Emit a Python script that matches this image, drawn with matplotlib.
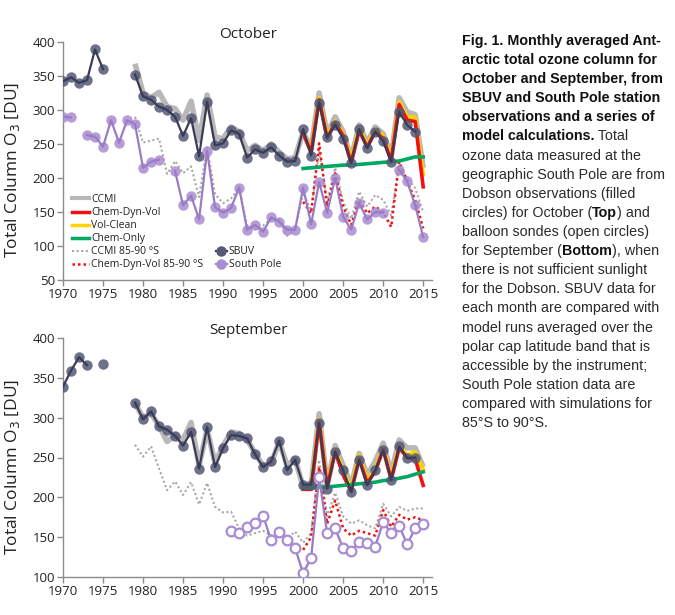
import numpy as np
import matplotlib
matplotlib.use('Agg')
from matplotlib import pyplot as plt
from matplotlib.lines import Line2D

nan = np.nan

years_all = np.arange(1970, 2016)
years_ccmi = np.arange(1979, 2016)
years_model = np.arange(2000, 2016)
years_sp_sep = np.arange(1991, 2016)

# ---- October ----
oct_sbuv = [342, 348, 340, 344, 389, 360, nan, nan, nan, 352,
            320, 315, 305, 300, 290, 262, 288, 232, 312, 248,
            251, 270, 265, 230, 242, 237, 245, 233, 224, 225,
            272, 233, 311, 260, 278, 258, 222, 272, 244, 268,
            254, 224, 297, 278, 268, nan]
oct_southpole = [290, 289, nan, 263, 261, 246, 285, 252, 285, 279,
                 215, 224, 227, nan, 210, 160, 174, 139, 240, 157,
                 149, 156, 186, 124, 131, 121, 142, 136, 124, 124,
                 186, 132, 194, 149, 200, 143, 124, 163, 139, 150,
                 149, nan, 212, 195, 160, 113]
oct_ccmi = [368, 325, 318, 326, 305, 302, 285, 313, 255, 322,
            260, 258, 275, 268, 240, 248, 240, 250, 238, 228,
            230, 268, 243, 325, 265, 290, 268, 228, 278, 252,
            275, 265, 232, 318, 297, 293, 215]
oct_ccmi_sp = [290, 252, 255, 258, 206, 225, 207, 217, 172, 245,
               176, 163, 170, 185, 130, 125, 130, 140, 140, 115,
               125, 178, 152, 240, 165, 215, 165, 140, 180, 158,
               175, 168, 145, 218, 200, 185, 150]
oct_cdv = [266, 237, 315, 258, 281, 262, 222, 270, 245, 268, 258, 225, 308, 285, 283, 187]
oct_volclean = [267, 239, 318, 261, 284, 265, 226, 274, 248, 272, 262, 229, 312, 290, 289, 205]
oct_chemonly = [214, 215, 216, 217, 218, 219, 219, 220, 221, 222, 223, 224, 225, 228, 231, 231]
oct_cdv_sp = [165, 148, 251, 158, 207, 158, 131, 168, 148, 158, 150, 128, 224, 195, 168, 126]

# ---- September ----
sep_sbuv = [339, 359, 376, 366, nan, 367, nan, nan, nan, 319,
            298, 308, 289, 285, 277, 265, 282, 236, 288, 238,
            262, 278, 277, 274, 254, 238, 245, 271, 234, 247,
            216, 216, 293, 211, 257, 234, 207, 247, 215, 234,
            259, 222, 264, 249, 250, nan]
sep_southpole = [158, 155, 163, 168, 177, 146, 157, 147, 136, 105,
                 124, 225, 155, 161, 136, 133, 144, 143, 138, 169,
                 155, 164, 141, 161, 167]
sep_ccmi = [318, 300, 305, 290, 270, 278, 272, 294, 240, 285,
            243, 265, 282, 280, 273, 255, 240, 242, 270, 240,
            248, 213, 215, 305, 215, 265, 240, 215, 255, 228,
            245, 268, 230, 272, 262, 262, 238]
sep_ccmi_sp = [266, 251, 264, 236, 209, 220, 203, 219, 191, 218,
               188, 181, 182, 161, 152, 155, 158, 152, 158, 148,
               157, 143, 155, 247, 176, 206, 176, 167, 171, 165,
               161, 192, 176, 188, 183, 186, 186]
sep_cdv = [210, 210, 295, 212, 257, 228, 207, 248, 218, 232, 260, 222, 262, 250, 248, 215]
sep_volclean = [211, 212, 298, 214, 260, 235, 210, 253, 222, 236, 263, 225, 265, 253, 257, 235]
sep_chemonly = [212, 212, 213, 213, 214, 215, 216, 217, 218, 219, 221, 222, 224, 226, 229, 232]
sep_cdv_sp = [134, 150, 238, 167, 196, 161, 152, 158, 155, 152, 184, 163, 178, 172, 175, 171]

c_sbuv_m = '#555876'
c_sbuv_l = '#3a3c57'
c_sp = '#a98cd2'
c_sp_l = '#9a7cc6'
c_ccmi = '#b8b8b8'
c_red = '#f01010'
c_yellow = '#ffd200'
c_green = '#00a861'
c_dot = '#a8a8a8'

plt.rcParams['font.family'] = ['Open Sans', 'DejaVu Sans']

W, H = 675, 615
fig = plt.figure(figsize=(W / 100, H / 100), dpi=100)


def px_axes(x0, y0, x1, y1):
    # pixel box (top-left origin) to figure fraction
    return fig.add_axes([x0 / W, 1 - y1 / H, (x1 - x0) / W, (y1 - y0) / H])


def style_axes(ax, ymin, ymax):
    for s in ['top', 'right']:
        ax.spines[s].set_visible(False)
    for s in ['left', 'bottom']:
        ax.spines[s].set_color('#8c8c8c')
        ax.spines[s].set_linewidth(1.0)
    ax.tick_params(direction='out', length=4, width=1, color='#8c8c8c',
                   labelsize=9.5, labelcolor='#222222', pad=1.5)
    ax.set_xlim(1970, 2016.1)
    ax.set_ylim(ymin, ymax)
    ax.set_xticks(range(1970, 2016, 5))
    ax.set_yticks(range(ymin, ymax + 1, 50))
    ax.set_ylabel('Total Column O$_3$ [DU]', fontsize=12.5, color='#222222')
    ax.yaxis.set_label_coords(-41 / 369, 0.462)


def draw_models(ax, ccmi, cdv, volclean, chemonly, ccmi_sp, cdv_sp):
    ax.plot(years_ccmi, ccmi_sp, ls=(0, (1, 1.2)), color=c_dot, lw=1.5, zorder=1)
    ax.plot(years_model, cdv_sp, ls=(0, (1, 1.2)), color=c_red, lw=1.8, zorder=1.5)
    ax.plot(years_ccmi, ccmi, color=c_ccmi, lw=4, zorder=2, solid_capstyle='butt')
    ax.plot(years_model, volclean, color=c_yellow, lw=2.8, zorder=3)
    ax.plot(years_model, cdv, color=c_red, lw=2.6, zorder=4)
    ax.plot(years_model, chemonly, color=c_green, lw=2.6, zorder=4)


def draw_sbuv(ax, vals):
    ax.plot(years_all, vals, 'o', ms=7.5, color=c_sbuv_m, alpha=0.85, mec='none', zorder=5)
    ax.plot(years_all, vals, '-', color=c_sbuv_l, lw=1.6, zorder=6)


ax1 = px_axes(63, 42, 432, 280)
style_axes(ax1, 50, 400)
draw_models(ax1, oct_ccmi, oct_cdv, oct_volclean, oct_chemonly, oct_ccmi_sp, oct_cdv_sp)
draw_sbuv(ax1, oct_sbuv)
ax1.plot(years_all, oct_southpole, 'o', ms=7.5, color=c_sp, alpha=0.85, mec='none', zorder=5)
ax1.plot(years_all, oct_southpole, '-', color=c_sp_l, lw=1.6, zorder=6)
fig.text(248 / W, 1 - 35 / H, 'October', ha='center', va='center', fontsize=11, color='#222222')

leg_items = [
    Line2D([], [], color=c_ccmi, lw=3),
    Line2D([], [], color=c_red, lw=2.5),
    Line2D([], [], color=c_yellow, lw=2.5),
    Line2D([], [], color=c_green, lw=2.5),
    Line2D([], [], color=c_dot, lw=1.5, ls=(0, (1, 1.2))),
    Line2D([], [], color=c_red, lw=1.8, ls=(0, (1, 1.2))),
]
leg_names = ['CCMI', 'Chem-Dyn-Vol', 'Vol-Clean', 'Chem-Only', 'CCMI 85-90 \u00b0S',
             'Chem-Dyn-Vol 85-90 \u00b0S']
leg1 = ax1.legend(leg_items, leg_names, loc='lower left', bbox_to_anchor=(0.025, 0.04),
                  frameon=False, fontsize=7.5, handlelength=1.6, handletextpad=0.25,
                  labelspacing=0.2, borderpad=0, borderaxespad=0)
for t in leg1.get_texts():
    t.set_color('#222222')
ax1.add_artist(leg1)
obs_items = [
    Line2D([], [], color=c_sbuv_l, marker='o', ms=7.5, mfc=c_sbuv_m, mec='none', lw=1.6),
    Line2D([], [], color=c_sp_l, marker='o', ms=7.5, mfc=c_sp, mec='none', lw=1.6),
]
leg2 = ax1.legend(obs_items, ['SBUV', 'South Pole'], loc='lower left',
                  bbox_to_anchor=(0.415, 0.04), frameon=False, fontsize=7.5,
                  handlelength=1.0, handletextpad=0.2, labelspacing=0.2,
                  borderpad=0, borderaxespad=0)
for t in leg2.get_texts():
    t.set_color('#222222')

ax2 = px_axes(63, 338, 432, 577)
style_axes(ax2, 100, 400)
draw_models(ax2, sep_ccmi, sep_cdv, sep_volclean, sep_chemonly, sep_ccmi_sp, sep_cdv_sp)
draw_sbuv(ax2, sep_sbuv)
ax2.plot(years_sp_sep, sep_southpole, '-', color=c_sp_l, lw=1.6, zorder=6)
ax2.plot(years_sp_sep, sep_southpole, 'o', ms=7, mfc='white', mec=c_sp, mew=1.6, zorder=7)
fig.text(248 / W, 1 - 331 / H, 'September', ha='center', va='center', fontsize=11, color='#222222')

# ---- caption ----
caption = [
    [('Fig. 1. Monthly averaged Ant-', True)],
    [('arctic total ozone column for', True)],
    [('October and September, from', True)],
    [('SBUV and South Pole station', True)],
    [('observations and a series of', True)],
    [('model calculations.', True), (' Total', False)],
    [('ozone data measured at the', False)],
    [('geographic South Pole are from', False)],
    [('Dobson observations (filled', False)],
    [('circles) for October (', False), ('Top', True), (') and', False)],
    [('balloon sondes (open circles)', False)],
    [('for September (', False), ('Bottom', True), ('), when', False)],
    [('there is not sufficient sunlight', False)],
    [('for the Dobson. SBUV data for', False)],
    [('each month are compared with', False)],
    [('model runs averaged over the', False)],
    [('polar cap latitude band that is', False)],
    [('accessible by the instrument;', False)],
    [('South Pole station data are', False)],
    [('compared with simulations for', False)],
    [('85\u00b0S to 90\u00b0S.', False)],
]

cap_font = ['Liberation Sans', 'DejaVu Sans']
y = 41
for line in caption:
    prev = None
    for txt, bold in line:
        kw = dict(fontsize=10.3, family=cap_font,
                  fontweight='bold' if bold else 'normal',
                  color='#111111' if bold else '#2a2a2a')
        if prev is None:
            prev = fig.text(462 / W, 1 - y / H, txt, ha='left', va='center', **kw)
        else:
            prev = ax1.annotate(txt, xy=(1, 0), xycoords=prev, ha='left', va='bottom',
                                annotation_clip=False, **kw)
    y += 19.1

fig.savefig('out.png', dpi=100)
